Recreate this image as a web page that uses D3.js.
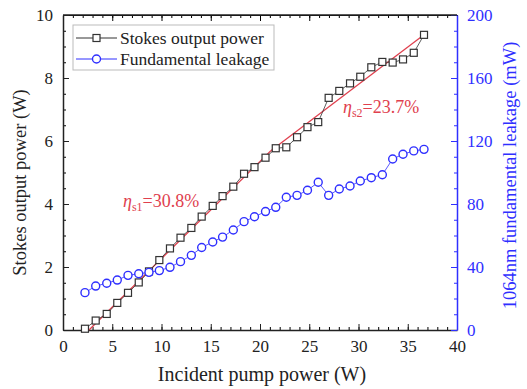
<!DOCTYPE html>
<html>
<head>
<meta charset="utf-8">
<script src="https://cdn.jsdelivr.net/npm/d3@7"></script>
<style>
  body { margin: 0; background: #fff; }
</style>
</head>
<body>
<div id="chart"></div>
<script>
// incident pump power (W)
const pump = [2.23, 3.32, 4.44, 5.51, 6.60, 7.69, 8.73, 9.78, 10.86, 11.93, 13.03,
  14.08, 15.2, 16.2, 17.29, 18.38, 19.44, 20.56, 21.6, 22.67, 23.76, 24.82, 25.91,
  26.97, 28.05, 29.14, 30.18, 31.3, 32.42, 33.47, 34.52, 35.61, 36.65];
// stokes output power (W)
const stokes = [0.04, 0.30, 0.51, 0.86, 1.18, 1.51, 1.86, 2.22, 2.59, 2.93, 3.24,
  3.60, 3.94, 4.25, 4.55, 4.96, 5.17, 5.47, 5.77, 5.80, 6.12, 6.44, 6.60,
  7.37, 7.59, 7.83, 8.04, 8.34, 8.51, 8.49, 8.59, 8.80, 9.37];
// 1064nm fundamental leakage (mW)
const leakage = [23.7, 27.9, 29.7, 31.7, 34.7, 35.7, 36.6, 37.7, 39.8, 43.4, 47.4,
  52.4, 55.9, 59.0, 63.5, 68.8, 71.9, 75.2, 77.9, 84.3, 85.5, 88.7, 93.8,
  85.5, 89.5, 91.4, 94.6, 96.7, 98.6, 108.6, 111.6, 113.7, 114.7];
// linear fits: [x0, y0] -> [x1, y1]
const fit1 = [[2.64, 0], [21.1, 5.69]];
const fit2 = [[21.1, 5.69], [36.65, 9.37]];
const xTicks = [0, 5, 10, 15, 20, 25, 30, 35, 40];
const yTicks = [0, 2, 4, 6, 8, 10];
const y2Ticks = [0, 40, 80, 120, 160, 200];

const W = 527, H = 389;
const margin = { top: 15, right: 70, bottom: 59, left: 63 };
const width = W - margin.left - margin.right;
const height = H - margin.top - margin.bottom;
const blue = "#2f2fff", red = "#e0404e";
const serif = "Liberation Serif";

const svg = d3.select("#chart").append("svg")
  .attr("width", W).attr("height", H)
  .attr("font-family", serif);
const g = svg.append("g")
  .attr("transform", "translate(" + margin.left + "," + margin.top + ")");

const x = d3.scaleLinear().domain([0, 40]).range([0, width]);
const y = d3.scaleLinear().domain([0, 10]).range([height, 0]);
const y2 = d3.scaleLinear().domain([0, 200]).range([height, 0]);

// minor ticks (inward)
function minor(axis, vals, color) {
  return sel => sel.call(axis.tickValues(vals).tickSize(3).tickFormat(""))
    .call(s => s.selectAll("line").attr("stroke", color))
    .call(s => s.select(".domain").remove());
}
const xMinor = d3.range(0, 41, 1);
const yMinor = d3.range(0, 10.01, 0.5);
const y2Minor = d3.range(0, 201, 10);

g.append("g").attr("transform", "translate(0," + height + ")")
  .call(minor(d3.axisTop(x), xMinor, "#000"));
g.append("g").call(minor(d3.axisBottom(x), xMinor, "#000"));
g.append("g").call(minor(d3.axisRight(y), yMinor, "#000"));
g.append("g").attr("transform", "translate(" + width + ",0)")
  .call(minor(d3.axisLeft(y2), y2Minor, blue));

// major axes
const xAxis = g.append("g").attr("transform", "translate(0," + height + ")")
  .call(d3.axisBottom(x).tickValues(xTicks).tickSizeInner(-6).tickSizeOuter(0).tickPadding(10));
g.append("g").call(d3.axisTop(x).tickValues(xTicks).tickSizeInner(-6).tickSizeOuter(0).tickFormat(""));
const yAxis = g.append("g")
  .call(d3.axisLeft(y).tickValues(yTicks).tickSizeInner(-6).tickSizeOuter(0).tickPadding(10));
const y2Axis = g.append("g").attr("transform", "translate(" + width + ",0)")
  .call(d3.axisRight(y2).tickValues(y2Ticks).tickSizeInner(-6).tickSizeOuter(0).tickPadding(10));

g.selectAll("g").attr("font-family", serif);

[xAxis, yAxis].forEach(a => {
  a.selectAll("text").attr("font-size", 17).attr("fill", "#222");
  a.select(".domain").attr("stroke", "#222").attr("stroke-width", 1.5);
  a.selectAll("line").attr("stroke", "#222");
});
y2Axis.selectAll("text").attr("font-size", 17).attr("fill", blue);
y2Axis.select(".domain").attr("stroke", blue).attr("stroke-width", 1.5);
y2Axis.selectAll("line").attr("stroke", blue);
g.append("line").attr("x1", 0).attr("x2", width).attr("y1", 0).attr("y2", 0)
  .attr("stroke", "#222").attr("stroke-width", 1.5);

// axis titles
svg.append("text")
  .attr("x", margin.left + width / 2 + 2).attr("y", 381)
  .attr("text-anchor", "middle").attr("font-size", 20).attr("fill", "#222")
  .text("Incident pump power (W)");
svg.append("text")
  .attr("transform", "translate(26," + (margin.top + height / 2 + 10) + ") rotate(-90)")
  .attr("text-anchor", "middle").attr("font-size", 18.5).attr("fill", "#222")
  .text("Stokes output power (W)");
svg.append("text")
  .attr("transform", "translate(516," + (margin.top + height / 2 + 3) + ") rotate(-90)")
  .attr("text-anchor", "middle").attr("font-size", 18.5).attr("fill", blue)
  .text("1064nm fundamental leakage (mW)");

// fit lines
const line = d3.line().x(d => x(d[0])).y(d => y(d[1]));
[fit1, fit2].forEach(f => {
  g.append("path").datum(f).attr("d", line)
    .attr("fill", "none").attr("stroke", red).attr("stroke-width", 1.3);
});

// data
const stokesData = pump.map((p, i) => [p, stokes[i]]);
const leakData = pump.map((p, i) => [p, leakage[i]]);

g.append("path").datum(stokesData)
  .attr("d", d3.line().x(d => x(d[0])).y(d => y(d[1])))
  .attr("fill", "none").attr("stroke", "#333").attr("stroke-width", 0.8);
g.selectAll(".sq").data(stokesData).enter().append("rect")
  .attr("class", "sq")
  .attr("x", d => x(d[0]) - 3.5).attr("y", d => y(d[1]) - 3.5)
  .attr("width", 7).attr("height", 7)
  .attr("fill", "#fff").attr("stroke", "#333").attr("stroke-width", 1.2);

g.append("path").datum(leakData)
  .attr("d", d3.line().x(d => x(d[0])).y(d => y2(d[1])))
  .attr("fill", "none").attr("stroke", blue).attr("stroke-width", 0.8);
g.selectAll(".circ").data(leakData).enter().append("circle")
  .attr("class", "circ")
  .attr("cx", d => x(d[0])).attr("cy", d => y2(d[1])).attr("r", 4)
  .attr("fill", "#fff").attr("stroke", blue).attr("stroke-width", 1.4);

// efficiency labels
function effLabel(px, py, sub, val) {
  const t = svg.append("text").attr("x", px).attr("y", py)
    .attr("font-size", 18).attr("fill", red);
  t.append("tspan").attr("font-style", "italic").text("η");
  t.append("tspan").attr("font-size", 12).attr("dy", 4).text(sub);
  t.append("tspan").attr("dy", -4).text("=" + val);
}
effLabel(123, 207, "s1", "30.8%");
effLabel(343, 113, "s2", "23.7%");

// legend
const lg = svg.append("g");
lg.append("rect").attr("x", 73).attr("y", 25).attr("width", 201).attr("height", 45)
  .attr("fill", "#fff").attr("stroke", "#bbb").attr("stroke-width", 1);
const legendItems = [
  { label: "Stokes output power", color: "#333", shape: "square", yy: 38 },
  { label: "Fundamental leakage", color: blue, shape: "circle", yy: 59 }
];
legendItems.forEach(it => {
  lg.append("line").attr("x1", 76).attr("x2", 117).attr("y1", it.yy).attr("y2", it.yy)
    .attr("stroke", it.color).attr("stroke-width", 1);
  if (it.shape === "square") {
    lg.append("rect").attr("x", 93).attr("y", it.yy - 3.5).attr("width", 7).attr("height", 7)
      .attr("fill", "#fff").attr("stroke", it.color).attr("stroke-width", 1.2);
  } else {
    lg.append("circle").attr("cx", 96.5).attr("cy", it.yy).attr("r", 4)
      .attr("fill", "#fff").attr("stroke", it.color).attr("stroke-width", 1.4);
  }
  lg.append("text").attr("x", 120).attr("y", it.yy + 5.5)
    .attr("font-size", 17.5).attr("fill", "#222").text(it.label);
});
</script>
</body>
</html>
